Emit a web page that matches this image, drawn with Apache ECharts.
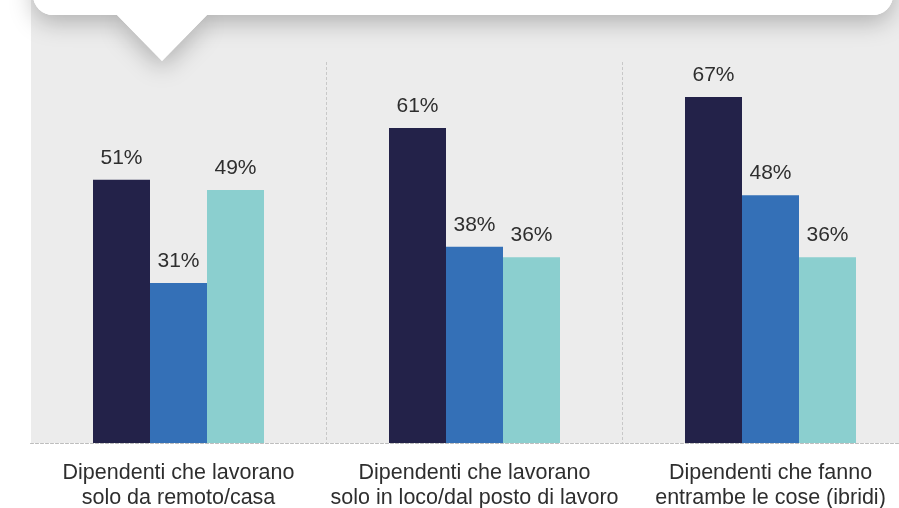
<!DOCTYPE html>
<html>
<head>
<meta charset="utf-8">
<script src="https://cdn.jsdelivr.net/npm/echarts@6/dist/echarts.min.js"></script>
<style>
  html, body { margin: 0; padding: 0; background: #ffffff; overflow: hidden; }
  /* the plot runs a little past the right edge of the window */
  #chart { width: 919px; height: 508px; }
</style>
</head>
<body>
<div id="chart"></div>
<script>
// Category labels (two lines each)
const categories = [
  'Dipendenti che lavorano\nsolo da remoto/casa',
  'Dipendenti che lavorano\nsolo in loco/dal posto di lavoro',
  'Dipendenti che fanno\nentrambe le cose (ibridi)'
];

// Percentages per group
const seriesDark = [51, 61, 67];
const seriesBlue = [31, 38, 48];
const seriesTeal = [49, 36, 36];

const FONT = "'Liberation Sans', Arial, sans-serif";
const TEXT = '#2e2e2e';

const chart = echarts.init(document.getElementById('chart'), null, { renderer: 'canvas' });

function barSeries(name, data, color) {
  return {
    name: name,
    type: 'bar',
    data: data,
    barWidth: 57,
    barGap: '0%',
    itemStyle: { color: color },
    label: {
      show: true,
      position: 'top',
      distance: 11,
      formatter: '{c}%',
      fontFamily: FONT,
      fontSize: 21,
      color: TEXT
    },
    z: 3
  };
}

// Callout box geometry (decoration above the plot)
const boxShape = { x: 33, y: -40, width: 860, height: 55, r: 20 };
const tipShape = { points: [[117, 15], [207, 15], [162, 61]] };

chart.setOption({
  animation: false,
  textStyle: { fontFamily: FONT },
  graphic: [
    {
      type: 'rect', z: -10, silent: true,
      shape: { x: 31, y: 0, width: 900, height: 443 },
      style: { fill: '#ececec' }
    },
    {
      type: 'rect', z: 10, silent: true, shape: boxShape,
      style: { fill: '#ffffff', shadowBlur: 24, shadowOffsetY: 7, shadowColor: 'rgba(0,0,0,0.26)' }
    },
    {
      type: 'polygon', z: 10, silent: true, shape: tipShape,
      style: { fill: '#ffffff', shadowBlur: 24, shadowOffsetY: 7, shadowColor: 'rgba(0,0,0,0.26)' }
    },
    {
      type: 'rect', z: 11, silent: true, shape: boxShape,
      style: { fill: '#ffffff' }
    },
    {
      type: 'polygon', z: 11, silent: true, shape: tipShape,
      style: { fill: '#ffffff' }
    }
  ],
  grid: {
    left: 30.5, right: 0.5, top: 62, bottom: 65,
    containLabel: false,
    outerBoundsMode: 'none'
  },
  xAxis: {
    type: 'category',
    data: categories,
    boundaryGap: true,
    axisLine: { show: true, lineStyle: { color: '#bdbdbd', type: [3, 2], width: 1 } },
    axisTick: { show: false },
    axisLabel: {
      margin: 18,
      fontFamily: FONT,
      fontSize: 21.5,
      lineHeight: 25,
      color: TEXT,
      interval: 0
    },
    splitLine: {
      show: true,
      interval: function (index) { return index > 0; },
      lineStyle: { color: '#c8c8c8', type: [3, 2], width: 1 }
    }
  },
  yAxis: {
    type: 'value',
    min: 0,
    max: 73.8,
    show: false,
    splitLine: { show: false }
  },
  series: [
    barSeries('A', seriesDark, '#232249'),
    barSeries('B', seriesBlue, '#3470b7'),
    barSeries('C', seriesTeal, '#8bcfcf')
  ]
});
</script>
</body>
</html>
